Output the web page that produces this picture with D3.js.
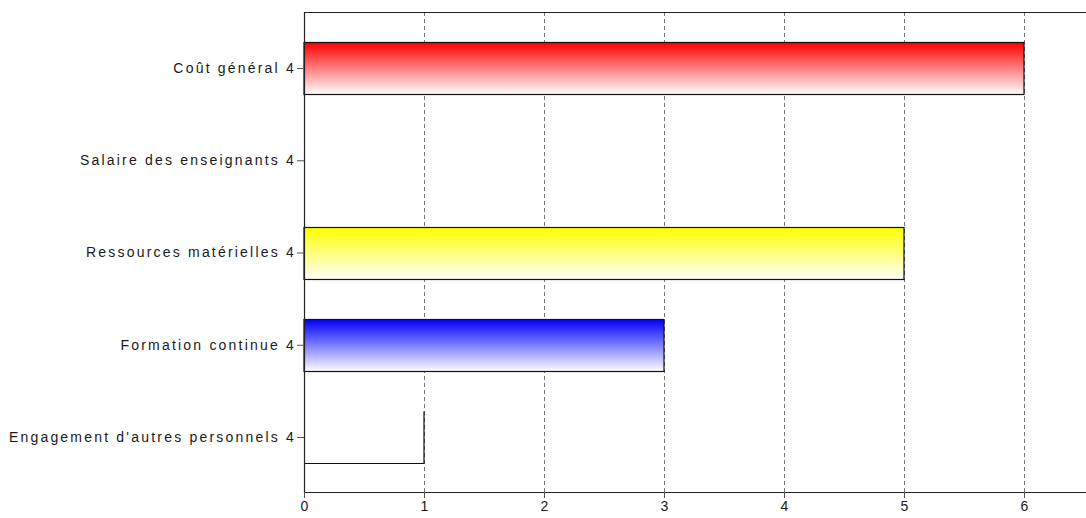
<!DOCTYPE html>
<html>
<head>
<meta charset="utf-8">
<script src="https://cdn.jsdelivr.net/npm/d3@7"></script>
<style>
  html, body { margin: 0; padding: 0; background: #fff; }
  svg { display: block; }
  text { font-family: "Liberation Sans", Arial, sans-serif; }
</style>
</head>
<body>
<svg id="chart" width="1086" height="518"></svg>
<script>
// Categories (top to bottom) and their values
const categories = [
  "Coût général 4",
  "Salaire des enseignants 4",
  "Ressources matérielles 4",
  "Formation continue 4",
  "Engagement d'autres personnels 4"
];
const values = [6, 0, 5, 3, 1];
const barColors = ["#ff0000", "#ffffff", "#ffff00", "#0000ff", "#ffffff"];
const xTicks = [0, 1, 2, 3, 4, 5, 6];

const svg = d3.select("#chart");
const plotLeft = 304, plotTop = 12, plotBottom = 492;

// Value axis extends past the right edge of the page
const x = d3.scaleLinear().domain([0, 6]).range([plotLeft, plotLeft + 720]);
const y = d3.scaleBand().domain(categories).range([plotTop + 12, plotBottom - 10]).paddingInner(0.435).paddingOuter(0.2);

// Gradients: saturated colour at top fading to white
const defs = svg.append("defs");
barColors.forEach((c, i) => {
  const g = defs.append("linearGradient").attr("id", "grad" + i)
    .attr("x1", 0).attr("y1", 0).attr("x2", 0).attr("y2", 1);
  g.append("stop").attr("offset", "0%").attr("stop-color", c);
  g.append("stop").attr("offset", "100%").attr("stop-color", "#ffffff");
});

// Dashed vertical grid
svg.append("g").selectAll("line").data(xTicks.slice(1)).join("line")
  .attr("x1", d => Math.round(x(d)) + 0.5).attr("x2", d => Math.round(x(d)) + 0.5)
  .attr("y1", plotTop).attr("y2", plotBottom)
  .attr("stroke", "#777").attr("stroke-width", 1)
  .attr("stroke-dasharray", "4,3");

// Bars
const bh = Math.round(y.bandwidth());
svg.append("g").selectAll("rect").data(categories).join("rect")
  .attr("x", x(0))
  .attr("y", d => Math.round(y(d)) + 0.5)
  .attr("width", (d, i) => x(values[i]) - x(0))
  .attr("height", bh)
  .attr("fill", (d, i) => `url(#grad${i})`)
  .attr("stroke", "#111")
  .attr("stroke-width", 1.2)
  .attr("stroke-dasharray", (d, i) => {
    const w = x(values[i]) - x(0);
    // last bar shows only its right and bottom edges
    return i === categories.length - 1 ? `0,${w},${bh + w},${bh}` : null;
  })
  .style("display", (d, i) => values[i] === 0 ? "none" : null);

// Frame: left, top, bottom lines
svg.append("path")
  .attr("d", `M1086,${plotTop + 0.5}H${plotLeft + 0.5}V${plotBottom + 0.5}H1086`)
  .attr("fill", "none").attr("stroke", "#222").attr("stroke-width", 1.2);

// Category axis
const yAxis = d3.axisLeft(y).tickSize(7).tickPadding(1);
const gy = svg.append("g").attr("transform", `translate(${plotLeft},0)`).call(yAxis);
gy.select(".domain").remove();
gy.selectAll(".tick line").attr("stroke", "#555");
gy.selectAll(".tick text").attr("font-size", 14).attr("fill", "#1a1a1a")
  .attr("letter-spacing", "2.2px")
  .attr("font-family", "'Liberation Sans', Arial, sans-serif");

// Value axis
const xAxis = d3.axisBottom(x).tickValues(xTicks).tickFormat(d3.format("d")).tickSize(6).tickPadding(3);
const gx = svg.append("g").attr("transform", `translate(0,${plotBottom})`).call(xAxis);
gx.select(".domain").remove();
gx.selectAll(".tick line").attr("stroke", "#555");
gx.selectAll(".tick text").attr("font-size", 14).attr("fill", "#1a1a1a")
  .attr("font-family", "'Liberation Sans', Arial, sans-serif");
</script>
</body>
</html>
